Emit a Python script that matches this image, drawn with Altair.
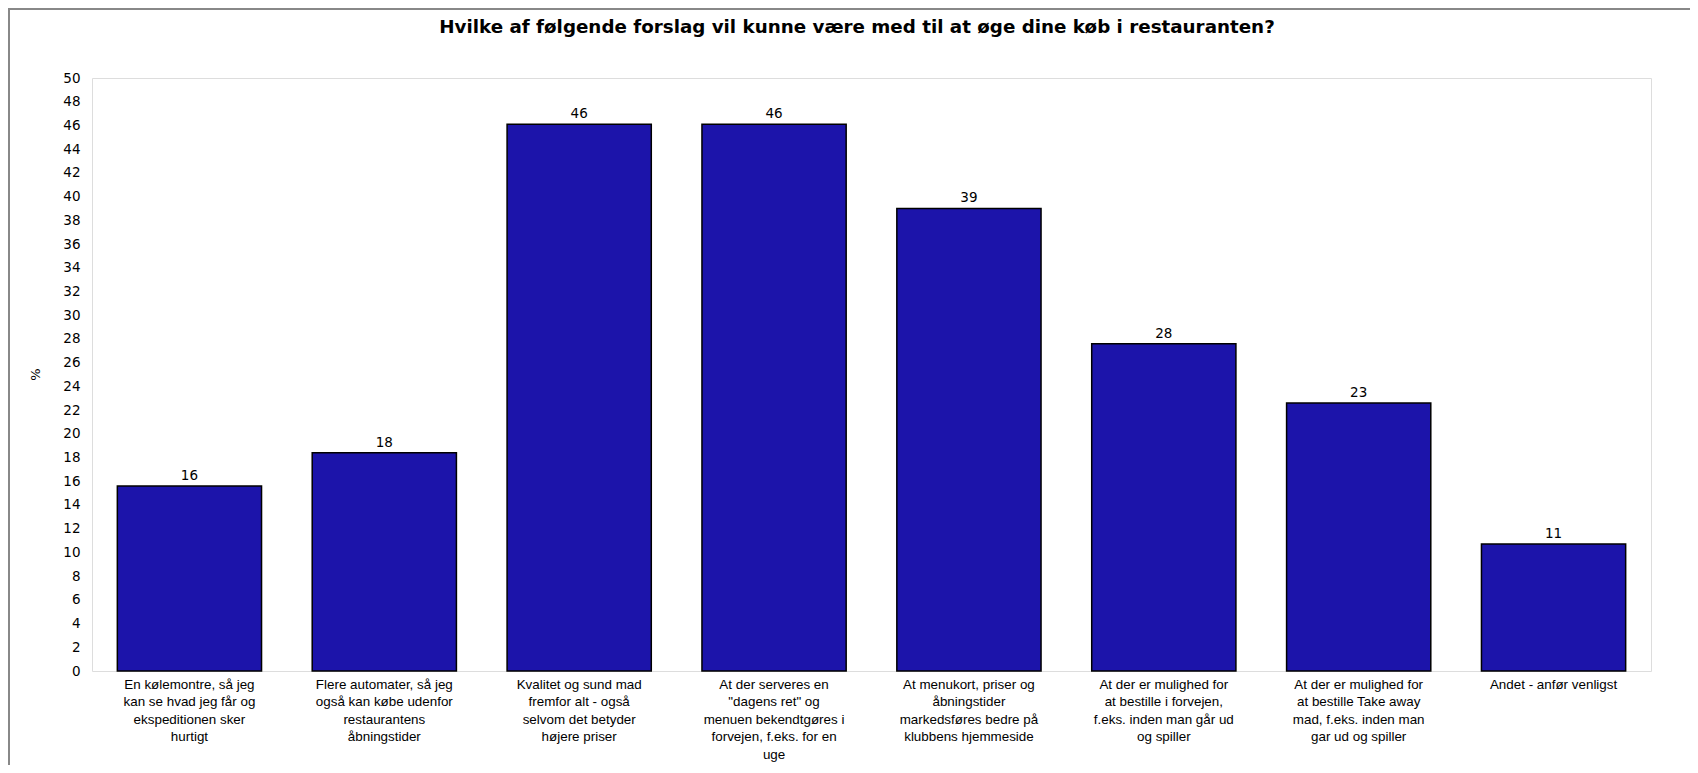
import altair as alt
import pandas as pd

categories = [
    "En kølemontre, så jeg|kan se hvad jeg får og|ekspeditionen sker|hurtigt",
    "Flere automater, så jeg|også kan købe udenfor|restaurantens|åbningstider",
    "Kvalitet og sund mad|fremfor alt - også|selvom det betyder|højere priser",
    "At der serveres en|\"dagens ret\" og|menuen bekendtgøres i|forvejen, f.eks. for en|uge",
    "At menukort, priser og|åbningstider|markedsføres bedre på|klubbens hjemmeside",
    "At der er mulighed for|at bestille i forvejen,|f.eks. inden man går ud|og spiller",
    "At der er mulighed for|at bestille Take away|mad, f.eks. inden man|gar ud og spiller",
    "Andet - anfør venligst",
]
values = [15.6, 18.4, 46.1, 46.1, 39.0, 27.6, 22.6, 10.7]
y_ticks = list(range(0, 51, 2))
title_text = ["Hvilke af følgende forslag vil kunne være med til at øge dine køb i restauranten?"]

df = pd.DataFrame({"cat": categories, "pct": values})
tdf = pd.DataFrame({"t": title_text})

FONT = "Liberation Sans"
NUMFONT = "DejaVu Sans"

x = alt.X("cat:N", sort=categories, title=None,
          scale=alt.Scale(paddingInner=0.26, paddingOuter=0.13),
          axis=alt.Axis(labelAngle=0, labelExpr="split(datum.label, '|')",
                        labelLineHeight=17.5, labelFontSize=13.4, labelFont=FONT,
                        labelColor="#000000", labelPadding=6, labelLimit=300,
                        labelBaseline="top", ticks=False, domain=False))
y = alt.Y("pct:Q", title="%",
          scale=alt.Scale(domain=[0, 50], nice=False),
          axis=alt.Axis(values=y_ticks, tickCount=26, grid=False, ticks=False, domain=False,
                        labelOverlap=False, labelSeparation=0,
                        labelFontSize=13.5, labelFont=NUMFONT, labelColor="#000000",
                        labelPadding=12, titleAngle=270, titleX=-50, titleY=296,
                        titleFontSize=13, titleFont=NUMFONT, titleFontWeight="normal",
                        titleColor="#000000"))

bars = alt.Chart(df).mark_bar(color="#1c14aa", stroke="#000000", strokeWidth=1.5).encode(x=x, y=y)
labels = alt.Chart(df).mark_text(dy=-10, fontSize=13.5, font=NUMFONT, color="#000000").encode(
    x=x, y=y, text=alt.Text("pct:Q", format=".0f"))

title = alt.Chart(tdf).mark_text(font=NUMFONT, fontSize=18.3, fontWeight="bold", color="#000000",
                                 align="center", baseline="middle").encode(
    x=alt.value(765), y=alt.value(-50), text="t:N")

frame = alt.Chart(tdf).mark_rect(fill=None, stroke="#888888", strokeWidth=2, clip=False).encode(
    x=alt.value(-83), x2=alt.value(1660), y=alt.value(-69), y2=alt.value(740))

chart = alt.layer(bars, labels, title, frame).properties(
    width=1559, height=593,
    autosize=alt.AutoSizeParams(type="none"),
    padding={"left": 84, "top": 70, "right": 39, "bottom": 94},
).configure_view(stroke="#c8c4b4", strokeWidth=2).configure(background="#ffffff")

chart.save("out.html", embed_options={"renderer": "svg", "actions": False})
